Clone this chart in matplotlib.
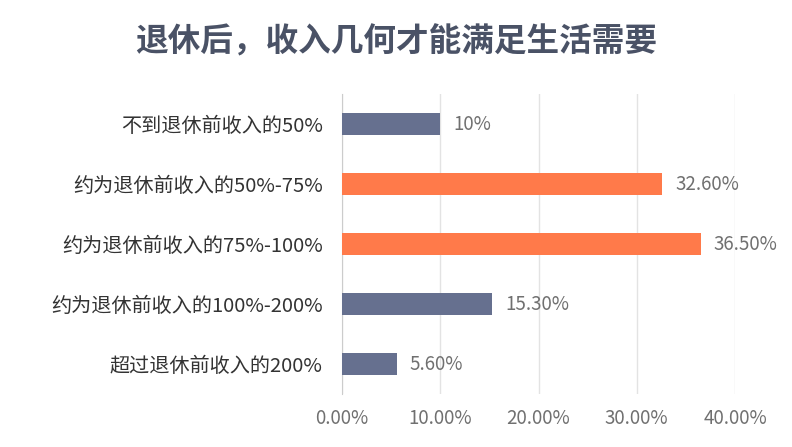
import matplotlib
matplotlib.use("Agg")
import matplotlib.pyplot as plt

plt.rcParams['font.family'] = ['Noto Sans CJK SC', 'DejaVu Sans']

categories = ["不到退休前收入的50%", "约为退休前收入的50%-75%", "约为退休前收入的75%-100%",
              "约为退休前收入的100%-200%", "超过退休前收入的200%"]
values = [10, 32.6, 36.5, 15.3, 5.6]
labels = ["10%", "32.60%", "36.50%", "15.30%", "5.60%"]
colors = ["#66708f", "#ff7a4a", "#ff7a4a", "#66708f", "#66708f"]
xticks = [0, 10, 20, 30, 40]
xticklabels = ["0.00%", "10.00%", "20.00%", "30.00%", "40.00%"]

fig = plt.figure(figsize=(7.92, 4.47), dpi=100)
ax = fig.add_axes([342/792, 1-394/447, (735-342)/792, 300/447])
y = list(range(len(categories)))
ax.barh(y, values, height=0.36, color=colors, zorder=3)
for yi, v, l in zip(y, values, labels):
    ax.text(v + 1.3, yi, l, va='center', ha='left', fontsize=13.5, color='#707070')
ax.set_ylim(4.5, -0.5)
ax.set_xlim(0, 40)
ax.set_yticks(y)
ax.set_yticklabels(categories, fontsize=14.5, color='#333333')
ax.set_xticks(xticks)
ax.set_xticklabels(xticklabels, fontsize=13.5, color='#707070')
ax.tick_params(length=0, pad=10)
ax.tick_params(axis='y', pad=14)
ax.grid(axis='x', color='#e3e3e3', linewidth=1, zorder=0)
for s in ['top', 'right', 'bottom']:
    ax.spines[s].set_visible(False)
ax.spines['left'].set_color('#cccccc')
fig.text(0.5, 1-42/447, "退休后，收入几何才能满足生活需要", ha='center', va='center',
         fontsize=23.5, fontweight='bold', color='#4a5266')
fig.savefig("out.png", dpi=100)
